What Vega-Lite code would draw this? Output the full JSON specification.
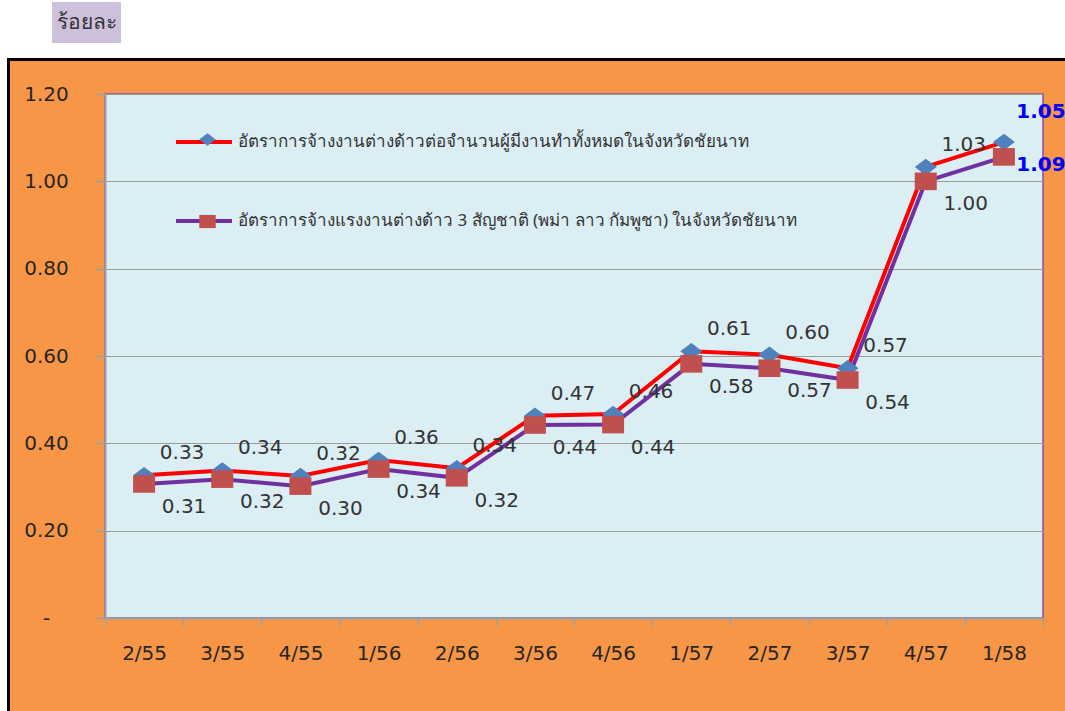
{
  "$schema": "https://vega.github.io/schema/vega-lite/v6.json",
  "background": "#F79646",
  "padding": 0,
  "spacing": 0,
  "config": {"view": {"stroke": null}, "font": "DejaVu Sans"},
  "vconcat": [
    {
      "spacing": 0,
      "hconcat": [
        {"width": 52, "height": 58, "view": {"fill": "#FFFFFF", "stroke": null}, "data": {"values": []}, "mark": "point"},
        {
          "spacing": 0,
          "vconcat": [
            {"width": 69, "height": 2, "view": {"fill": "#FFFFFF", "stroke": null}, "data": {"values": []}, "mark": "point"},
            {
              "width": 69, "height": 41,
              "view": {"fill": "#CCC0DA", "stroke": null},
              "data": {"values": [{"t": "ร้อยละ"}]},
              "mark": {"type": "text", "fontSize": 21, "font": "Noto Sans", "color": "#333333"},
              "encoding": {
                "x": {"field": "t", "type": "nominal", "axis": null},
                "y": {"field": "t", "type": "nominal", "axis": null},
                "text": {"field": "t"}
              }
            },
            {"width": 69, "height": 15, "view": {"fill": "#FFFFFF", "stroke": null}, "data": {"values": []}, "mark": "point"}
          ]
        },
        {"width": 944, "height": 58, "view": {"fill": "#FFFFFF", "stroke": null}, "data": {"values": []}, "mark": "point"}
      ]
    },
    {
      "spacing": 0,
      "hconcat": [
        {"width": 7, "height": 653, "view": {"fill": "#FFFFFF", "stroke": null}, "data": {"values": []}, "mark": "point"},
        {"width": 3, "height": 653, "view": {"fill": "#000000", "stroke": null}, "data": {"values": []}, "mark": "point"},
        {
          "spacing": 0,
          "vconcat": [
            {"width": 1055, "height": 3, "view": {"fill": "#000000", "stroke": null}, "data": {"values": []}, "mark": "point"},
            {"width": 1055, "height": 22, "view": {"fill": "#F79646", "stroke": null}, "data": {"values": []}, "mark": "point"},
            {
              "spacing": 0,
              "bounds": "flush",
              "hconcat": [
                {"width": 95, "height": 524, "view": {"fill": "#F79646", "stroke": null}, "data": {"values": []}, "mark": "point"},
                {
                  "width": 938,
                  "height": 524,
                  "view": {"fill": "#DAEEF3", "stroke": "#8B4DAB", "strokeWidth": 1.5},
                  "data": {"values": [
                    {"period": "2/55", "k": "A", "series": "อัตราการจ้างงานต่างด้าวต่อจำนวนผู้มีงานทำทั้งหมดในจังหวัดชัยนาท", "value": 0.327, "label": "0.33"},
                    {"period": "3/55", "k": "A", "series": "อัตราการจ้างงานต่างด้าวต่อจำนวนผู้มีงานทำทั้งหมดในจังหวัดชัยนาท", "value": 0.338, "label": "0.34"},
                    {"period": "4/55", "k": "A", "series": "อัตราการจ้างงานต่างด้าวต่อจำนวนผู้มีงานทำทั้งหมดในจังหวัดชัยนาท", "value": 0.325, "label": "0.32"},
                    {"period": "1/56", "k": "A", "series": "อัตราการจ้างงานต่างด้าวต่อจำนวนผู้มีงานทำทั้งหมดในจังหวัดชัยนาท", "value": 0.362, "label": "0.36"},
                    {"period": "2/56", "k": "A", "series": "อัตราการจ้างงานต่างด้าวต่อจำนวนผู้มีงานทำทั้งหมดในจังหวัดชัยนาท", "value": 0.343, "label": "0.34"},
                    {"period": "3/56", "k": "A", "series": "อัตราการจ้างงานต่างด้าวต่อจำนวนผู้มีงานทำทั้งหมดในจังหวัดชัยนาท", "value": 0.463, "label": "0.47"},
                    {"period": "4/56", "k": "A", "series": "อัตราการจ้างงานต่างด้าวต่อจำนวนผู้มีงานทำทั้งหมดในจังหวัดชัยนาท", "value": 0.467, "label": "0.46"},
                    {"period": "1/57", "k": "A", "series": "อัตราการจ้างงานต่างด้าวต่อจำนวนผู้มีงานทำทั้งหมดในจังหวัดชัยนาท", "value": 0.611, "label": "0.61"},
                    {"period": "2/57", "k": "A", "series": "อัตราการจ้างงานต่างด้าวต่อจำนวนผู้มีงานทำทั้งหมดในจังหวัดชัยนาท", "value": 0.603, "label": "0.60"},
                    {"period": "3/57", "k": "A", "series": "อัตราการจ้างงานต่างด้าวต่อจำนวนผู้มีงานทำทั้งหมดในจังหวัดชัยนาท", "value": 0.572, "label": "0.57"},
                    {"period": "4/57", "k": "A", "series": "อัตราการจ้างงานต่างด้าวต่อจำนวนผู้มีงานทำทั้งหมดในจังหวัดชัยนาท", "value": 1.033, "label": "1.03"},
                    {"period": "1/58", "k": "A", "series": "อัตราการจ้างงานต่างด้าวต่อจำนวนผู้มีงานทำทั้งหมดในจังหวัดชัยนาท", "value": 1.09, "label": "1.05"},
                    {"period": "2/55", "k": "B", "series": "อัตราการจ้างแรงงานต่างด้าว 3 สัญชาติ (พม่า ลาว กัมพูชา) ในจังหวัดชัยนาท", "value": 0.307, "label": "0.31"},
                    {"period": "3/55", "k": "B", "series": "อัตราการจ้างแรงงานต่างด้าว 3 สัญชาติ (พม่า ลาว กัมพูชา) ในจังหวัดชัยนาท", "value": 0.318, "label": "0.32"},
                    {"period": "4/55", "k": "B", "series": "อัตราการจ้างแรงงานต่างด้าว 3 สัญชาติ (พม่า ลาว กัมพูชา) ในจังหวัดชัยนาท", "value": 0.302, "label": "0.30"},
                    {"period": "1/56", "k": "B", "series": "อัตราการจ้างแรงงานต่างด้าว 3 สัญชาติ (พม่า ลาว กัมพูชา) ในจังหวัดชัยนาท", "value": 0.341, "label": "0.34"},
                    {"period": "2/56", "k": "B", "series": "อัตราการจ้างแรงงานต่างด้าว 3 สัญชาติ (พม่า ลาว กัมพูชา) ในจังหวัดชัยนาท", "value": 0.321, "label": "0.32"},
                    {"period": "3/56", "k": "B", "series": "อัตราการจ้างแรงงานต่างด้าว 3 สัญชาติ (พม่า ลาว กัมพูชา) ในจังหวัดชัยนาท", "value": 0.442, "label": "0.44"},
                    {"period": "4/56", "k": "B", "series": "อัตราการจ้างแรงงานต่างด้าว 3 สัญชาติ (พม่า ลาว กัมพูชา) ในจังหวัดชัยนาท", "value": 0.443, "label": "0.44"},
                    {"period": "1/57", "k": "B", "series": "อัตราการจ้างแรงงานต่างด้าว 3 สัญชาติ (พม่า ลาว กัมพูชา) ในจังหวัดชัยนาท", "value": 0.582, "label": "0.58"},
                    {"period": "2/57", "k": "B", "series": "อัตราการจ้างแรงงานต่างด้าว 3 สัญชาติ (พม่า ลาว กัมพูชา) ในจังหวัดชัยนาท", "value": 0.572, "label": "0.57"},
                    {"period": "3/57", "k": "B", "series": "อัตราการจ้างแรงงานต่างด้าว 3 สัญชาติ (พม่า ลาว กัมพูชา) ในจังหวัดชัยนาท", "value": 0.545, "label": "0.54"},
                    {"period": "4/57", "k": "B", "series": "อัตราการจ้างแรงงานต่างด้าว 3 สัญชาติ (พม่า ลาว กัมพูชา) ในจังหวัดชัยนาท", "value": 1.0, "label": "1.00"},
                    {"period": "1/58", "k": "B", "series": "อัตราการจ้างแรงงานต่างด้าว 3 สัญชาติ (พม่า ลาว กัมพูชา) ในจังหวัดชัยนาท", "value": 1.056, "label": "1.09"}
                  ]},
                  "encoding": {
                    "x": {
                      "field": "period", "type": "ordinal", "sort": null,
                      "scale": {"type": "band", "paddingInner": 0, "paddingOuter": 0},
                      "axis": {
                        "title": null, "labelAngle": 0, "tickBand": "extent",
                        "domainColor": "#A0A0A0", "domainWidth": 2,
                        "tickColor": "#A0A0A0", "tickWidth": 1.5, "tickSize": 8,
                        "labelFont": "DejaVu Sans", "labelFontSize": 20, "labelColor": "#262626",
                        "labelPadding": 17, "grid": false
                      }
                    },
                    "y": {
                      "field": "value", "type": "quantitative",
                      "scale": {"domain": [0, 1.2], "nice": false},
                      "axis": {
                        "title": null,
                        "values": [0, 0.2, 0.4, 0.6, 0.8, 1.0, 1.2],
                        "labelExpr": "datum.value == 0 ? '-' : format(datum.value, '.2f')",
                        "labelAlign": "center", "labelBaseline": "middle",
                        "labelPadding": 49, "tickSize": 10,
                        "tickColor": "#A0A0A0", "tickWidth": 1.5,
                        "domainColor": "#A0A0A0", "domainWidth": 2,
                        "grid": true, "gridColor": "#9A9A9A", "gridWidth": 1,
                        "labelFont": "DejaVu Sans", "labelFontSize": 20, "labelColor": "#262626"
                      }
                    }
                  },
                  "layer": [
                    {
                      "mark": {"type": "line", "strokeWidth": 4},
                      "encoding": {
                        "stroke": {
                          "field": "series", "type": "nominal", "sort": null,
                          "scale": {"range": ["#FF0000", "#7030A0"]},
                          "legend": {
                            "title": null, "orient": "none", "legendX": 174, "legendY": 112,
                            "symbolType": "stroke", "symbolSize": 3136, "symbolStrokeWidth": 4,
                            "labelFont": "Noto Sans", "labelFontSize": 17, "labelColor": "#333333",
                            "labelOffset": 4, "labelLimit": 1000, "rowPadding": 41, "padding": 0,
                            "zindex": 1
                          }
                        }
                      }
                    },
                    {
                      "mark": {"type": "point", "filled": true, "opacity": 1, "size": 484, "strokeWidth": 0},
                      "encoding": {
                        "fill": {
                          "field": "series", "type": "nominal", "sort": null,
                          "scale": {"range": ["#4F81BD", "#C0504D"]},
                          "legend": {
                            "title": null, "orient": "none", "legendX": 199, "legendY": 131,
                            "symbolSize": 270, "symbolStrokeWidth": 0,
                            "labelOpacity": 0, "labelFontSize": 16, "labelLimit": 1, "rowPadding": 65, "padding": 0,
                            "zindex": 2
                          }
                        },
                        "shape": {
                          "field": "series", "type": "nominal", "sort": null,
                          "scale": {"range": ["M-1,0L0,-0.75L1,0L0,0.75Z", "M-1,-0.8L1,-0.8L1,0.8L-1,0.8Z"]},
                          "legend": {
                            "title": null, "orient": "none", "legendX": 199, "legendY": 131,
                            "symbolSize": 270, "symbolStrokeWidth": 0,
                            "labelOpacity": 0, "labelFontSize": 16, "labelLimit": 1, "rowPadding": 65, "padding": 0,
                            "zindex": 2
                          }
                        }
                      }
                    },
                    {
                      "transform": [{"filter": "datum.k == 'A' && datum.period != '1/58'"}],
                      "mark": {"type": "text", "font": "DejaVu Sans", "fontSize": 20, "color": "#333333", "dx": 38, "dy": -22},
                      "encoding": {"text": {"field": "label"}}
                    },
                    {
                      "transform": [{"filter": "datum.k == 'B' && datum.period != '1/58'"}],
                      "mark": {"type": "text", "font": "DejaVu Sans", "fontSize": 20, "color": "#333333", "dx": 40, "dy": 23},
                      "encoding": {"text": {"field": "label"}}
                    },
                    {
                      "transform": [{"filter": "datum.k == 'A' && datum.period == '1/58'"}],
                      "mark": {"type": "text", "font": "DejaVu Sans", "fontSize": 20, "fontWeight": "bold", "color": "#0000FF", "dx": 37, "dy": -30},
                      "encoding": {"text": {"field": "label"}}
                    },
                    {
                      "transform": [{"filter": "datum.k == 'B' && datum.period == '1/58'"}],
                      "mark": {"type": "text", "font": "DejaVu Sans", "fontSize": 20, "fontWeight": "bold", "color": "#0000FF", "dx": 37, "dy": 8},
                      "encoding": {"text": {"field": "label"}}
                    }
                  ]
                }
              ]
            }
          ]
        }
      ]
    }
  ]
}
